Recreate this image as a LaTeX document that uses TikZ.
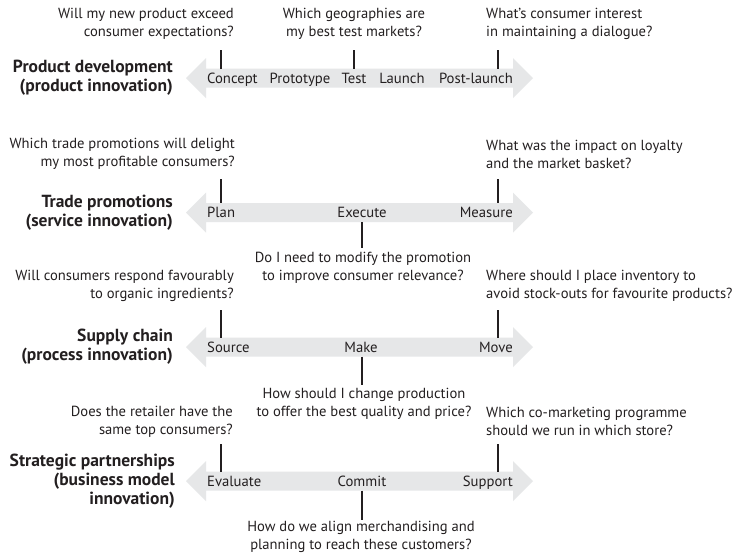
\documentclass[tikz,border=0pt]{standalone}
\usepackage{fontspec}
\setmainfont{PT Sans}
\definecolor{band}{HTML}{E6E7E8}
\definecolor{ink}{HTML}{231F20}
\newcommand\bandarrow[1]{\fill[band] (186,#1) -- (206,#1-20) -- (206,#1-9.5) -- (513,#1-9.5) -- (513,#1-20) -- (533,#1) -- (513,#1+20) -- (513,#1+9.5) -- (206,#1+9.5) -- (206,#1+20) -- cycle;}
\begin{document}
\begin{tikzpicture}[x=1pt,y=-1pt,
  q/.style={font=\fontsize{14.6}{18}\selectfont, inner sep=0pt, text=ink},
  ql/.style={q, anchor=east, align=right},
  qr/.style={q, anchor=west, align=left},
  qc/.style={q, anchor=center, align=center},
  stage/.style={font=\fontsize{14.7}{18}\selectfont, inner sep=0pt, text=ink},
  lab/.style={font=\fontsize{17.5}{19}\selectfont\bfseries, inner sep=0pt, anchor=east, align=right, text=ink},
  tick/.style={draw=ink, line width=1.2pt}]
\useasboundingbox (0,0) rectangle (740,558);
\fill[white] (0,0) rectangle (740,558);
% ---------- Row 1
\bandarrow{78}
\node[lab] (l1) at (173,78) {Product development\\(product innovation)};
\node[ql] (q1a) at (234,23.5) {Will my new product exceed\\consumer expectations?};
\node[qc] (q1b) at (354,23.5) {Which geographies are\\my best test markets?};
\node[qr] (q1c) at (486,23.5) {What’s consumer interest\\in maintaining a dialogue?};
\node[stage, anchor=base west] (s1a) at (207,83) {Concept};
\node[stage, anchor=base] (s1b) at (300,83) {Prototype};
\node[stage, anchor=base] (s1c) at (354,83) {Test};
\node[stage, anchor=base] (s1d) at (402,83) {Launch};
\node[stage, anchor=base east] (s1e) at (513,83) {Post-launch};
\coordinate (t1a) at (221,50); \coordinate (b1a) at (221,68.5);
\coordinate (t1b) at (354,50); \coordinate (b1b) at (354,68.5);
\coordinate (t1c) at (498,50); \coordinate (b1c) at (498,68.5);
\draw[tick] (t1a) -- (b1a);
\draw[tick] (t1b) -- (b1b);
\draw[tick] (t1c) -- (b1c);
% ---------- Row 2
\bandarrow{212.5}
\node[lab] (l2) at (173,213) {Trade promotions\\(service innovation)};
\node[ql] (q2a) at (235,154) {Which trade promotions will delight\\my most profitable consumers?};
\node[qr] (q2c) at (486,154) {What was the impact on loyalty\\and the market basket?};
\node[qc] (q2b) at (363,268) {Do I need to modify the promotion\\to improve consumer relevance?};
\node[stage, anchor=base west] (s2a) at (207,217.5) {Plan};
\node[stage, anchor=base] (s2b) at (362,217.5) {Execute};
\node[stage, anchor=base east] (s2c) at (513,217.5) {Measure};
\coordinate (t2a) at (221,179); \coordinate (b2a) at (221,203);
\coordinate (t2c) at (498,179); \coordinate (b2c) at (498,203);
\coordinate (t2b) at (362,222); \coordinate (b2b) at (362,248);
\draw[tick] (t2a) -- (b2a);
\draw[tick] (t2c) -- (b2c);
\draw[tick] (t2b) -- (b2b);
% ---------- Row 3
\bandarrow{347}
\node[lab] (l3) at (173,347) {Supply chain\\(process innovation)};
\node[ql] (q3a) at (234,286) {Will consumers respond favourably\\to organic ingredients?};
\node[qr] (q3c) at (486,286) {Where should I place inventory to\\avoid stock-outs for favourite products?};
\node[qc] (q3b) at (364,404) {How should I change production\\to offer the best quality and price?};
\node[stage, anchor=base west] (s3a) at (207,352) {Source};
\node[stage, anchor=base] (s3b) at (361,352) {Make};
\node[stage, anchor=base east] (s3c) at (513,352) {Move};
\coordinate (t3a) at (221,310); \coordinate (b3a) at (221,337.5);
\coordinate (t3c) at (498,310); \coordinate (b3c) at (498,337.5);
\coordinate (t3b) at (362,356.5); \coordinate (b3b) at (362,385);
\draw[tick] (t3a) -- (b3a);
\draw[tick] (t3c) -- (b3c);
\draw[tick] (t3b) -- (b3b);
% ---------- Row 4
\bandarrow{481}
\node[lab] (l4) at (175,481) {Strategic partnerships\\(business model\\innovation)};
\node[ql] (q4a) at (233,421.5) {Does the retailer have the\\same top consumers?};
\node[qr] (q4c) at (486,421.5) {Which co-marketing programme\\should we run in which store?};
\node[qc] (q4b) at (361,536.5) {How do we align merchandising and\\planning to reach these customers?};
\node[stage, anchor=base west] (s4a) at (207,486) {Evaluate};
\node[stage, anchor=base] (s4b) at (362,486) {Commit};
\node[stage, anchor=base east] (s4c) at (513,486) {Support};
\coordinate (t4a) at (221,444); \coordinate (b4a) at (221,471.5);
\coordinate (t4c) at (498,444); \coordinate (b4c) at (498,471.5);
\coordinate (t4b) at (362,490.5); \coordinate (b4b) at (362,520);
\draw[tick] (t4a) -- (b4a);
\draw[tick] (t4c) -- (b4c);
\draw[tick] (t4b) -- (b4b);
\end{tikzpicture}
\end{document}
